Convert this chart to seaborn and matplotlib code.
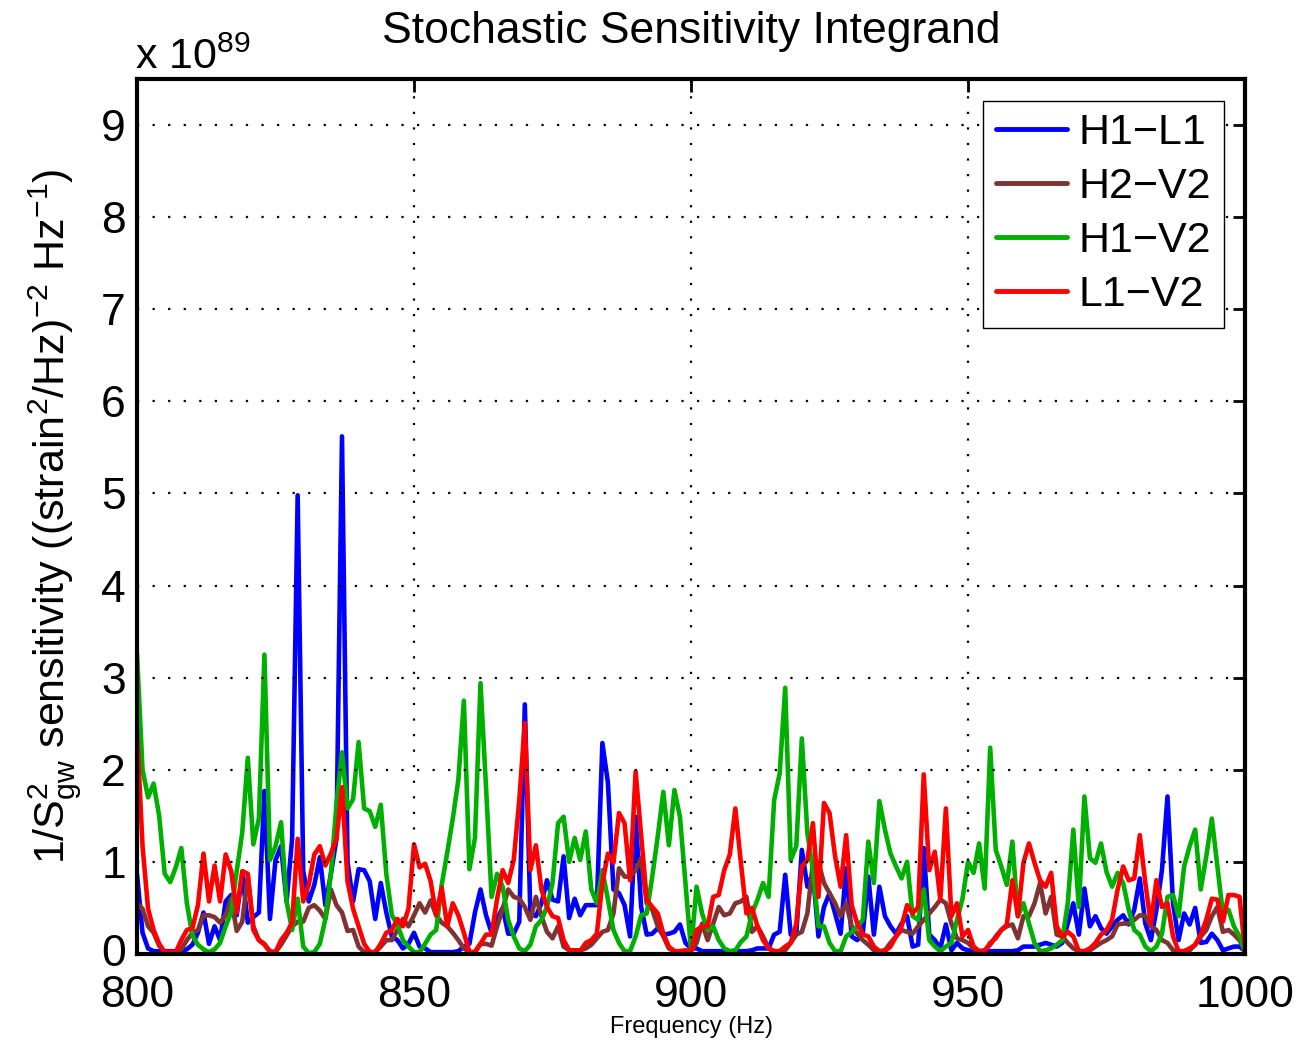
import numpy as np
import pandas as pd
import matplotlib
matplotlib.use("Agg")
import matplotlib.pyplot as plt
import matplotlib.transforms as mtransforms
import seaborn as sns

# ---------------- data (units of 1e89) ----------------
freq = list(range(800, 1001))

h1l1 = [
    0.87, 0.23, 0.06, 0.03, 0.03, 0.03, 0.03, 0.03, 0.03, 0.05,
    0.10, 0.23, 0.45, 0.11, 0.30, 0.15, 0.57, 0.64, 0.42, 0.87,
    0.34, 0.40, 0.45, 1.77, 0.38, 1.02, 1.17, 0.57, 1.25, 4.98,
    0.90, 0.57, 0.75, 1.05, 0.53, 0.87, 1.25, 5.62, 1.00, 0.57,
    0.92, 0.91, 0.79, 0.38, 0.77, 0.45, 0.19, 0.15, 0.06, 0.11,
    0.23, 0.08, 0.06, 0.02, 0.02, 0.02, 0.02, 0.02, 0.03, 0.08,
    0.11, 0.45, 0.70, 0.42, 0.23, 0.38, 0.50, 0.22, 0.22, 0.35,
    2.71, 0.44, 0.41, 0.55, 0.80, 0.59, 0.57, 1.06, 0.39, 0.60,
    0.42, 0.53, 0.53, 0.53, 2.29, 1.86, 0.70, 0.66, 0.53, 0.19,
    1.49, 0.51, 0.21, 0.22, 0.28, 0.21, 0.22, 0.24, 0.32, 0.12,
    0.06, 0.06, 0.03, 0.03, 0.03, 0.03, 0.03, 0.03, 0.03, 0.03,
    0.03, 0.04, 0.06, 0.06, 0.06, 0.21, 0.24, 0.86, 0.21, 0.22,
    1.13, 0.73, 0.88, 0.19, 0.51, 0.66, 0.44, 0.22, 0.93, 0.19,
    0.15, 0.22, 0.84, 0.21, 0.73, 0.41, 0.30, 0.22, 0.33, 0.41,
    0.08, 0.10, 1.15, 0.21, 0.15, 0.06, 0.32, 0.04, 0.12, 0.06,
    0.04, 0.03, 0.03, 0.03, 0.03, 0.03, 0.03, 0.03, 0.03, 0.04,
    0.08, 0.08, 0.08, 0.10, 0.12, 0.10, 0.08, 0.12, 0.33, 0.55,
    0.21, 0.71, 0.30, 0.41, 0.28, 0.22, 0.30, 0.37, 0.42, 0.32,
    0.48, 0.82, 0.33, 0.15, 0.48, 0.91, 1.71, 0.55, 0.15, 0.44,
    0.32, 0.50, 0.12, 0.13, 0.22, 0.15, 0.04, 0.06, 0.08, 0.08,
    0.03,
]

h2v2 = [
    0.55, 0.49, 0.30, 0.23, 0.09, 0.02, 0.02, 0.02, 0.05, 0.15,
    0.23, 0.26, 0.42, 0.42, 0.40, 0.34, 0.42, 0.60, 0.25, 0.35,
    0.85, 0.30, 0.15, 0.10, 0.03, 0.02, 0.10, 0.20, 0.30, 0.35,
    0.35, 0.50, 0.53, 0.47, 0.38, 0.70, 0.53, 0.45, 0.25, 0.26,
    0.08, 0.02, 0.02, 0.02, 0.08, 0.15, 0.15, 0.26, 0.38, 0.30,
    0.42, 0.55, 0.45, 0.58, 0.42, 0.34, 0.30, 0.23, 0.15, 0.06,
    0.02, 0.02, 0.11, 0.11, 0.09, 0.30, 0.49, 0.70, 0.62, 0.60,
    0.51, 0.37, 0.62, 0.41, 0.24, 0.17, 0.30, 0.08, 0.04, 0.04,
    0.04, 0.06, 0.10, 0.17, 0.24, 0.26, 0.44, 0.93, 0.84, 0.84,
    0.91, 1.04, 0.55, 0.48, 0.30, 0.19, 0.06, 0.03, 0.03, 0.03,
    0.03, 0.12, 0.33, 0.15, 0.33, 0.51, 0.42, 0.44, 0.55, 0.57,
    0.62, 0.24, 0.30, 0.19, 0.06, 0.03, 0.03, 0.04, 0.12, 0.21,
    0.24, 0.44, 0.99, 0.99, 0.77, 0.66, 0.55, 0.41, 0.55, 0.30,
    0.22, 0.15, 0.10, 0.04, 0.03, 0.04, 0.12, 0.19, 0.26, 0.24,
    0.22, 0.30, 0.37, 0.44, 0.51, 0.59, 0.55, 0.33, 0.17, 0.15,
    0.12, 0.06, 0.03, 0.04, 0.10, 0.19, 0.26, 0.30, 0.32, 0.17,
    0.41, 0.41, 0.55, 0.77, 0.44, 0.62, 0.21, 0.19, 0.12, 0.06,
    0.03, 0.03, 0.04, 0.08, 0.12, 0.15, 0.19, 0.32, 0.33, 0.33,
    0.37, 0.42, 0.41, 0.30, 0.26, 0.15, 0.12, 0.04, 0.03, 0.03,
    0.04, 0.10, 0.19, 0.26, 0.41, 0.51, 0.24, 0.26, 0.21, 0.15,
    0.03,
]

h1v2 = [
    3.26, 2.00, 1.70, 1.85, 1.50, 0.87, 0.78, 0.94, 1.15, 0.55,
    0.20, 0.10, 0.05, 0.02, 0.05, 0.12, 0.30, 0.45, 0.90, 1.32,
    2.13, 1.19, 1.47, 3.25, 1.02, 1.17, 1.43, 0.57, 0.26, 0.60,
    0.08, 0.01, 0.02, 0.11, 0.38, 0.87, 1.62, 2.19, 1.58, 1.68,
    2.30, 1.58, 1.55, 1.38, 1.62, 0.87, 0.42, 0.32, 0.15, 0.08,
    0.02, 0.02, 0.11, 0.21, 0.26, 0.75, 1.10, 1.47, 1.89, 2.75,
    0.92, 1.26, 2.94, 1.81, 0.62, 0.87, 0.73, 0.37, 0.19, 0.06,
    0.03, 0.10, 0.30, 0.37, 0.51, 0.77, 1.42, 1.49, 1.00, 1.26,
    1.02, 1.33, 0.70, 0.55, 0.91, 0.59, 0.26, 0.12, 0.03, 0.03,
    0.19, 0.42, 0.44, 0.84, 1.28, 1.76, 1.18, 1.78, 1.49, 0.77,
    0.04, 0.73, 0.44, 0.26, 0.30, 0.15, 0.06, 0.03, 0.04, 0.13,
    0.19, 0.44, 0.59, 0.77, 0.62, 1.67, 1.96, 2.89, 1.02, 1.17,
    2.34, 1.31, 0.91, 0.30, 0.30, 0.12, 0.03, 0.03, 0.19, 0.24,
    0.30, 0.37, 1.22, 0.77, 1.66, 1.35, 1.09, 0.95, 0.82, 1.00,
    0.41, 0.37, 0.70, 0.15, 0.08, 0.03, 0.08, 0.12, 0.37, 0.60,
    1.00, 0.88, 1.20, 0.71, 2.24, 1.13, 0.95, 0.75, 1.22, 0.41,
    0.55, 0.33, 0.12, 0.03, 0.04, 0.06, 0.10, 0.15, 0.55, 1.35,
    0.51, 1.71, 1.04, 0.99, 1.20, 0.89, 0.73, 0.88, 0.77, 0.48,
    0.26, 0.21, 0.08, 0.03, 0.08, 0.22, 0.62, 0.64, 0.41, 0.95,
    1.17, 1.35, 0.70, 1.06, 1.47, 0.95, 0.44, 0.48, 0.30, 0.19,
    0.03,
]

l1v2 = [
    2.42, 1.17, 0.49, 0.26, 0.11, 0.02, 0.02, 0.02, 0.15, 0.26,
    0.28, 0.53, 1.09, 0.57, 0.96, 0.57, 1.08, 0.90, 0.45, 0.90,
    0.87, 0.26, 0.15, 0.11, 0.02, 0.02, 0.15, 0.23, 0.34, 1.25,
    0.57, 0.75, 1.08, 1.17, 0.96, 1.09, 1.25, 1.81, 0.79, 0.49,
    0.30, 0.11, 0.02, 0.02, 0.11, 0.23, 0.26, 0.38, 0.30, 0.49,
    1.19, 0.94, 0.98, 0.79, 0.42, 0.72, 0.30, 0.55, 0.42, 0.23,
    0.02, 0.02, 0.11, 0.21, 0.21, 0.60, 0.91, 0.77, 1.02, 1.67,
    2.51, 0.91, 1.18, 0.70, 0.51, 0.41, 0.39, 0.15, 0.04, 0.03,
    0.03, 0.12, 0.15, 0.22, 0.77, 1.09, 0.99, 1.53, 1.42, 0.80,
    1.98, 1.28, 0.59, 0.51, 0.44, 0.22, 0.08, 0.03, 0.03, 0.04,
    0.03, 0.26, 0.30, 0.30, 0.62, 0.64, 0.91, 1.08, 1.58, 0.99,
    0.44, 0.50, 0.30, 0.15, 0.06, 0.03, 0.03, 0.08, 0.12, 0.33,
    0.95, 1.02, 1.42, 0.62, 1.64, 1.53, 1.06, 0.73, 1.29, 0.53,
    0.33, 0.21, 0.19, 0.08, 0.03, 0.03, 0.08, 0.19, 0.30, 0.53,
    0.44, 0.51, 1.95, 0.91, 1.11, 0.59, 1.58, 0.41, 0.55, 0.19,
    0.26, 0.08, 0.03, 0.03, 0.12, 0.17, 0.26, 0.32, 0.80, 0.41,
    0.99, 1.20, 0.99, 0.80, 0.73, 0.88, 0.30, 0.19, 0.24, 0.19,
    0.03, 0.03, 0.06, 0.12, 0.21, 0.26, 0.37, 0.70, 0.95, 0.80,
    0.82, 1.29, 0.77, 0.33, 0.80, 0.51, 0.55, 0.19, 0.03, 0.03,
    0.06, 0.10, 0.21, 0.37, 0.60, 0.59, 0.35, 0.64, 0.64, 0.62,
    0.03,
]

pair_names = ["H1\u2212L1", "H2\u2212V2", "H1\u2212V2", "L1\u2212V2"]
pair_colors = ["#0000FF", "#7F3333", "#00B000", "#FF0000"]
x_ticks = [800, 850, 900, 950, 1000]
y_ticks = [0, 1, 2, 3, 4, 5, 6, 7, 8, 9]

series = [h1l1, h2v2, h1v2, l1v2]
frames = []
for name, vals in zip(pair_names, series):
    frames.append(pd.DataFrame({"freq": freq, "value": vals, "pair": name}))
df = pd.concat(frames, ignore_index=True)

# ---------------- style ----------------
sns.set_style("white")
plt.rcParams["font.family"] = ["Liberation Sans", "DejaVu Sans"]
plt.rcParams["mathtext.fontset"] = "custom"
plt.rcParams["mathtext.rm"] = "Liberation Sans"
plt.rcParams["mathtext.it"] = "Liberation Sans"
plt.rcParams["mathtext.default"] = "regular"
plt.rcParams["text.color"] = "black"
plt.rcParams["axes.labelcolor"] = "black"
plt.rcParams["xtick.color"] = "black"
plt.rcParams["ytick.color"] = "black"

fig = plt.figure(figsize=(13.01, 10.42), dpi=100)
ax = fig.add_axes([0.1053, 0.0845, 0.8517, 0.8397])

sns.lineplot(data=df, x="freq", y="value", hue="pair", hue_order=pair_names,
             palette=dict(zip(pair_names, pair_colors)), linewidth=3.3,
             ax=ax, legend=True, estimator=None, sort=False)

ax.set_xlim(800, 1000)
ax.set_ylim(0, 9.5)
ax.set_xticks(x_ticks)
ax.set_yticks(y_ticks)
ax.tick_params(axis="both", which="major", direction="in", length=9, width=2,
               top=True, right=True, labelsize=32, colors="black")
ax.tick_params(axis="x", pad=15)
ax.tick_params(axis="y", pad=8)
for sp in ax.spines.values():
    sp.set_linewidth(3.0)
    sp.set_color("black")
ax.grid(True, color="black", linestyle=(0, (1, 6)), linewidth=1.6)
ax.set_axisbelow(False)

# lift the "0" y tick label a touch so it does not collide with "800"
fig.canvas.draw()
ylabels = ax.get_yticklabels()
ylabels[0].set_transform(ylabels[0].get_transform() +
                         mtransforms.ScaledTranslation(0, 4 / 100, fig.dpi_scale_trans))

ax.set_title("Stochastic Sensitivity Integrand", fontsize=32, pad=26,
             color="black")
ax.set_xlabel("Frequency (Hz)", fontsize=17, labelpad=0)
ax.set_ylabel(r"1/S$^2_{\mathrm{gw}}$ sensitivity ((strain$^2$/Hz)$^{-2}$ Hz$^{-1}$)",
              fontsize=31, labelpad=12)

fig.text(0.104, 0.934, r"x 10$^{89}$", fontsize=31, ha="left", va="baseline")

handles, labels = ax.get_legend_handles_labels()
leg = ax.legend(handles, labels, loc="upper right", fontsize=31,
                frameon=True, fancybox=False, edgecolor="black",
                framealpha=1.0, handlelength=1.65, handletextpad=0.25,
                borderpad=0.3, labelspacing=0.32, borderaxespad=0.5)
leg.get_frame().set_linewidth(1.0)
for line in leg.get_lines():
    line.set_linewidth(3.5)

fig.savefig("out.png", dpi=100)
